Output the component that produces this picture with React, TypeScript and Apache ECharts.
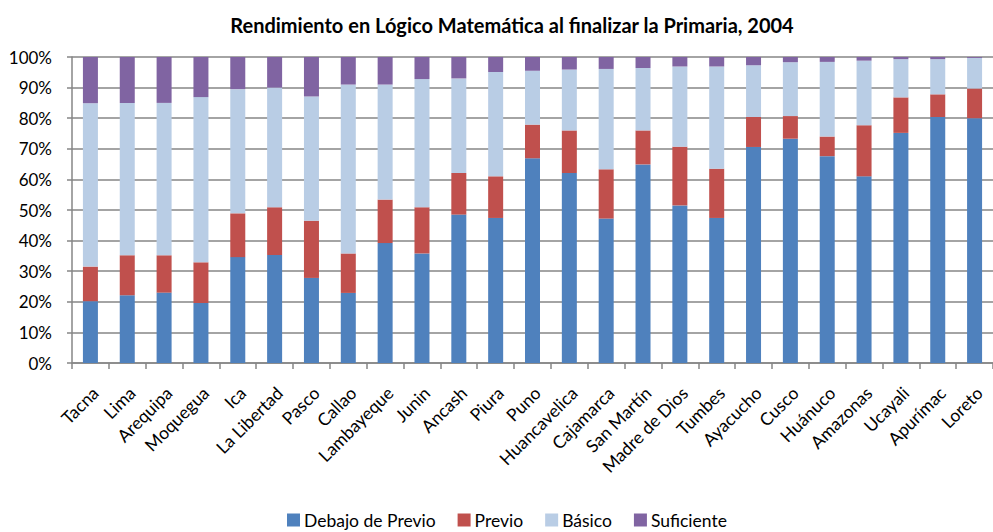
import React, { useEffect, useRef } from "react";
import * as echarts from "echarts";

const categories = [
  "Tacna", "Lima", "Arequipa", "Moquegua", "Ica", "La Libertad", "Pasco", "Callao",
  "Lambayeque", "Junin", "Ancash", "Piura", "Puno", "Huancavelica", "Cajamarca",
  "San Martín", "Madre de Dios", "Tumbes", "Ayacucho", "Cusco", "Huánuco",
  "Amazonas", "Ucayali", "Apurímac", "Loreto",
];

const debajoDePrevio = [20.2, 22.1, 23.0, 19.6, 34.6, 35.3, 27.8, 22.9, 39.2, 35.8, 48.5, 47.4, 66.9, 62.1, 47.2, 64.9, 51.5, 47.4, 70.6, 73.3, 67.6, 61.0, 75.2, 80.4, 80.0];
const previo = [11.3, 13.1, 12.2, 13.3, 14.3, 15.6, 18.7, 12.9, 14.2, 15.1, 13.6, 13.6, 11.0, 13.9, 16.1, 11.1, 19.2, 16.1, 9.8, 7.4, 6.4, 16.7, 11.6, 7.4, 9.7];
const basico = [53.4, 49.8, 49.8, 54.0, 40.6, 39.1, 40.6, 55.2, 37.6, 41.9, 30.9, 34.1, 17.6, 19.9, 32.8, 20.4, 26.2, 33.4, 16.9, 17.6, 24.4, 21.1, 12.5, 11.5, 10.0];
const suficiente = [15.1, 15.0, 15.0, 13.1, 10.5, 10.0, 12.9, 9.0, 9.0, 7.2, 7.0, 4.9, 4.5, 4.1, 3.9, 3.6, 3.1, 3.1, 2.7, 1.7, 1.6, 1.2, 0.7, 0.7, 0.3];

const seriesNames = ["Debajo de Previo", "Previo", "Básico", "Suficiente"];
const seriesColors = ["#4F81BD", "#C0504D", "#B9CDE5", "#8064A2"];
const yTicks = [0, 10, 20, 30, 40, 50, 60, 70, 80, 90, 100];

const FONT = "Lato, 'Open Sans', sans-serif";

export default function App() {
  const ref = useRef<HTMLDivElement>(null);
  useEffect(() => {
    if (!ref.current) return;
    const chart = echarts.init(ref.current, null, { renderer: "svg" });
    const data = [debajoDePrevio, previo, basico, suficiente];
    chart.setOption({
      animation: false,
      backgroundColor: "#ffffff",
      textStyle: { fontFamily: FONT, color: "#000" },
      title: {
        text: "Rendimiento en Lógico Matemática al finalizar la Primaria, 2004",
        left: 507,
        textAlign: "center",
        top: 10,
        textStyle: { fontFamily: FONT, fontSize: 20, fontWeight: "bold", color: "#000" },
      },
      legend: {
        top: 511,
        left: 287,
        padding: 0,
        itemWidth: 13,
        itemHeight: 13,
        itemGap: 22,
        icon: "rect",
        data: seriesNames,
        textStyle: { fontFamily: FONT, fontSize: 17.5, lineHeight: 17, color: "#000", padding: [0, 0, 0, -1] },
      },
      grid: { left: 72, top: 57, width: 931, height: 306, containLabel: false },
      xAxis: {
        type: "category",
        data: categories,
        axisLine: { show: true, lineStyle: { color: "#868686", width: 1.5 } },
        axisTick: { show: true, length: 6, lineStyle: { color: "#868686", width: 1.5 } },
        axisLabel: {
          rotate: 45,
          interval: 0,
          margin: 22,
          verticalAlign: "top",
          lineHeight: 14,
          fontFamily: FONT,
          fontSize: 17.5,
          color: "#000",
        },
      },
      yAxis: {
        type: "value",
        min: 0,
        max: 100,
        interval: 10,
        axisLine: { show: true, lineStyle: { color: "#868686", width: 1.5 } },
        axisTick: { show: true, length: 5, lineStyle: { color: "#868686", width: 1.5 } },
        splitLine: { show: true, lineStyle: { color: "#868686", width: 1.5 } },
        axisLabel: {
          formatter: (v: number) => (yTicks.includes(v) ? v + "%" : ""),
          margin: 20,
          fontFamily: FONT,
          fontSize: 17,
          color: "#000",
        },
      },
      series: seriesNames.map((name, i) => ({
        name,
        type: "bar",
        stack: "total",
        barWidth: 15,
        data: data[i],
        itemStyle: { color: seriesColors[i] },
      })),
    });
    return () => chart.dispose();
  }, []);
  return (
    <div
      ref={ref}
      style={{ position: "fixed", left: 0, top: 0, width: 993, height: 532 }}
    />
  );
}
